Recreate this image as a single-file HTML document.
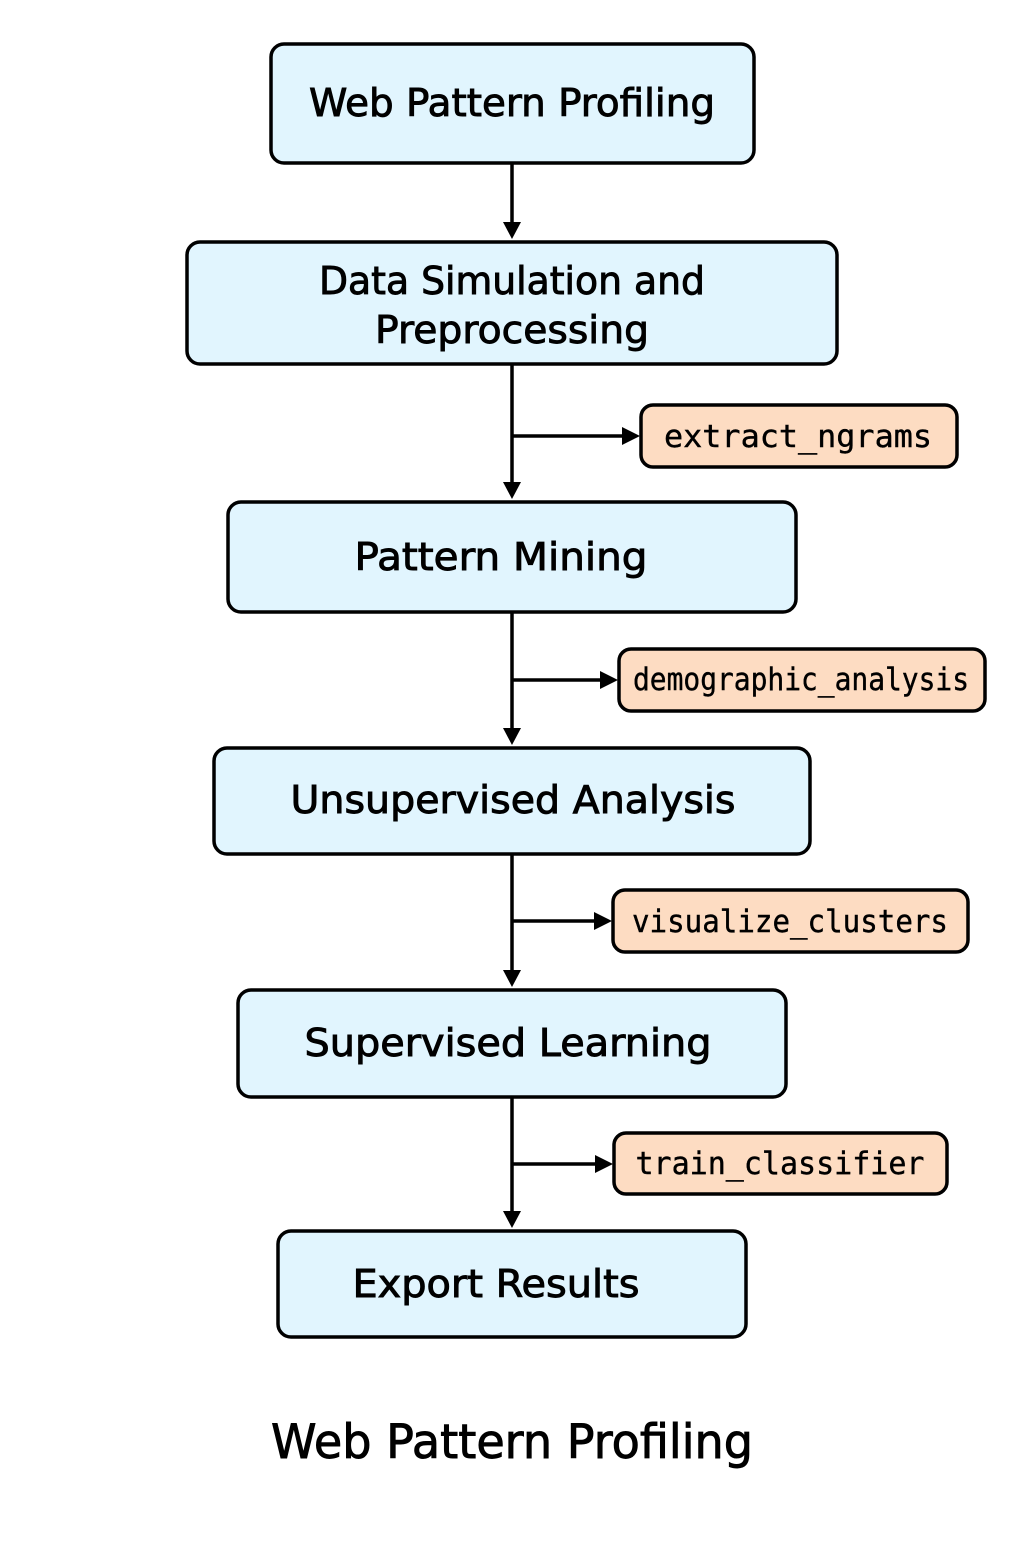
<!DOCTYPE html>
<html><head><style>html,body{margin:0;padding:0;background:#fff}</style></head>
<body>
<svg width="1024" height="1536" viewBox="0 0 1024 1536" xmlns="http://www.w3.org/2000/svg">
<g fill="#e1f5fe" stroke="#000" stroke-width="3.5">
<rect x="271" y="44" width="483" height="119" rx="13"/>
<rect x="187" y="242" width="650" height="122" rx="13"/>
<rect x="228" y="502" width="568" height="110" rx="13"/>
<rect x="214" y="748" width="596" height="106" rx="13"/>
<rect x="238" y="990" width="548" height="107" rx="13"/>
<rect x="278" y="1231" width="468" height="106" rx="13"/>
</g>
<g fill="#fddcc2" stroke="#000" stroke-width="3.5">
<rect x="641" y="405" width="316" height="62" rx="12"/>
<rect x="619" y="649" width="366" height="62" rx="12"/>
<rect x="613" y="890" width="355" height="62" rx="12"/>
<rect x="614" y="1133" width="333" height="61" rx="12"/>
</g>
<g stroke="#000" stroke-width="3.5" fill="none">
<line x1="512" y1="163" x2="512" y2="224"/>
<line x1="512" y1="364" x2="512" y2="484"/>
<line x1="512" y1="612" x2="512" y2="730"/>
<line x1="512" y1="854" x2="512" y2="972"/>
<line x1="512" y1="1097" x2="512" y2="1213"/>
<line x1="512" y1="436" x2="624" y2="436"/>
<line x1="512" y1="680" x2="602" y2="680"/>
<line x1="512" y1="921" x2="596" y2="921"/>
<line x1="512" y1="1164" x2="597" y2="1164"/>
</g>
<g fill="#000">
<path d="M503,222 L521,222 L512,239 Z"/>
<path d="M503,482 L521,482 L512,499 Z"/>
<path d="M503,728 L521,728 L512,745 Z"/>
<path d="M503,970 L521,970 L512,987 Z"/>
<path d="M503,1211 L521,1211 L512,1228 Z"/>
<path d="M622,427 L622,445 L640,436 Z"/>
<path d="M600,671 L600,689 L618,680 Z"/>
<path d="M594,912 L594,930 L612,921 Z"/>
<path d="M595,1155 L595,1173 L613,1164 Z"/>
</g>
<g font-family="'DejaVu Sans','Liberation Sans',sans-serif" font-size="38" fill="#000" stroke="#000" stroke-width="0.9" text-anchor="middle">
<text x="512" y="116" textLength="406" lengthAdjust="spacingAndGlyphs">Web Pattern Profiling</text>
<text x="512" y="294" textLength="386" lengthAdjust="spacingAndGlyphs">Data Simulation and</text>
<text x="512" y="343" textLength="274" lengthAdjust="spacingAndGlyphs">Preprocessing</text>
<text x="501" y="570" textLength="293" lengthAdjust="spacingAndGlyphs">Pattern Mining</text>
<text x="513" y="813" textLength="445" lengthAdjust="spacingAndGlyphs">Unsupervised Analysis</text>
<text x="508" y="1056" textLength="407" lengthAdjust="spacingAndGlyphs">Supervised Learning</text>
<text x="496" y="1297" textLength="287" lengthAdjust="spacingAndGlyphs">Export Results</text>
<text x="512" y="1458" font-size="47" textLength="482" lengthAdjust="spacingAndGlyphs">Web Pattern Profiling</text>
</g>
<g font-family="'DejaVu Sans Mono','Liberation Mono',monospace" font-size="31" fill="#000" stroke="#000" stroke-width="0.4" text-anchor="middle">
<text x="798" y="447" textLength="268" lengthAdjust="spacingAndGlyphs">extract_ngrams</text>
<text x="801" y="690" textLength="336" lengthAdjust="spacingAndGlyphs">demographic_analysis</text>
<text x="790" y="932" textLength="316" lengthAdjust="spacingAndGlyphs">visualize_clusters</text>
<text x="780" y="1174" textLength="289" lengthAdjust="spacingAndGlyphs">train_classifier</text>
</g>
</svg>
</body></html>
